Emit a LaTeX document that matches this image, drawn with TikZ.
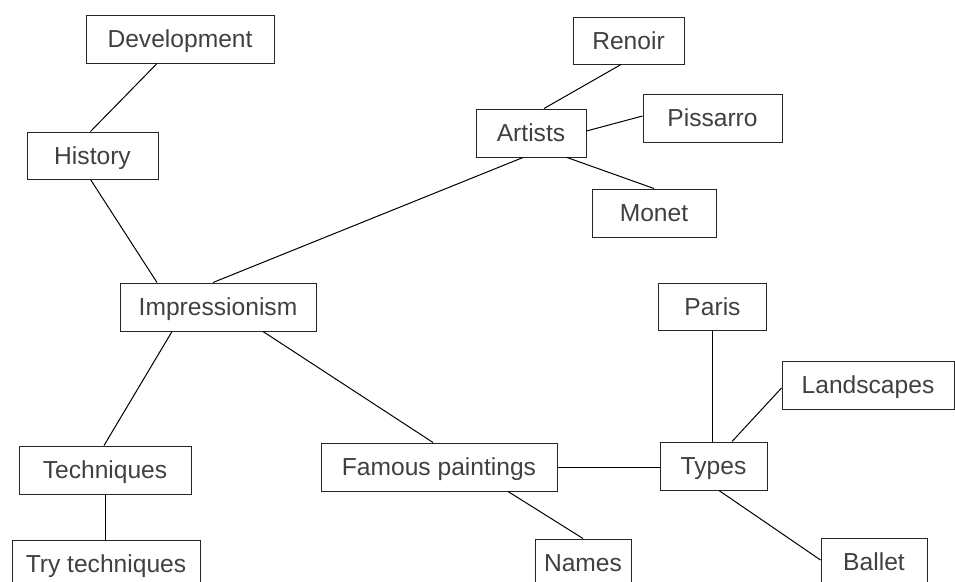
\documentclass[tikz,border=0pt]{standalone}
\usepackage{fontspec}
\setmainfont{Liberation Sans}
\begin{document}
\begin{tikzpicture}[x=1pt,y=-1pt,line width=1pt,
  box/.style={draw=black!85, rectangle, inner sep=0pt, minimum height=48pt, text height=17.6pt, text depth=0pt, text=black!75, font=\fontsize{24.6}{30}\selectfont}]
\useasboundingbox (0,0) rectangle (955,581);
\clip (0,0) rectangle (955,581);
\node[box, minimum width=188pt] (dev) at (180,39){Development};
\node[box, minimum width=131pt, minimum height=47pt] (hist) at (92.5,155.5){History};
\node[box, minimum width=111pt, minimum height=47pt] (renoir) at (628.5,40.5){Renoir};
\node[box, minimum width=110pt] (artists) at (531,133){Artists};
\node[box, minimum width=139pt] (pissarro) at (712.5,118){Pissarro};
\node[box, minimum width=124pt] (monet) at (654,213){Monet};
\node[box, minimum width=196pt] (imp) at (218,307){Impressionism};
\node[box, minimum width=108pt, minimum height=47pt] (paris) at (712.5,306.5){Paris};
\node[box, minimum width=172pt] (land) at (868,385){Landscapes};
\node[box, minimum width=172pt] (tech) at (105,470){Techniques};
\node[box, minimum width=236pt] (famous) at (439,467){Famous paintings};
\node[box, minimum width=107pt] (types) at (713.5,466){Types};
\node[box, minimum width=188pt] (trytech) at (106,564){Try techniques};
\node[box, minimum width=96pt] (names) at (583,563){Names};
\node[box, minimum width=106pt] (ballet) at (874,562){Ballet};
\draw[]([xshift=-23pt]dev.south) -- ([xshift=-2pt]hist.north);
\draw[]([xshift=-2pt]hist.south) -- ([xshift=-61pt]imp.north);
\draw[]([xshift=-5pt]imp.north) -- ([xshift=-8pt]artists.south);
\draw[]([xshift=-7.5pt]renoir.south) -- ([xshift=13pt]artists.north);
\draw[]([yshift=2pt]artists.east) -- ([yshift=2pt]pissarro.west);
\draw[]([xshift=36pt]artists.south) -- (monet.north);
\draw[]([xshift=-46pt]imp.south) -- ([xshift=-1pt]tech.north);
\draw[](tech.south) -- (tech.south |- trytech.north);
\draw[]([xshift=45pt]imp.south) -- ([xshift=-6pt]famous.north);
\draw[](famous.east) -- (famous.east -| types.west);
\draw[]([xshift=69pt]famous.south) -- (names.north);
\draw[](paris.south) -- (paris.south |- types.north);
\draw[]([yshift=-3pt]land.west) -- ([xshift=18.5pt]types.north);
\draw[]([xshift=5.5pt]types.south) -- ([yshift=2pt]ballet.west);
\end{tikzpicture}
\end{document}
